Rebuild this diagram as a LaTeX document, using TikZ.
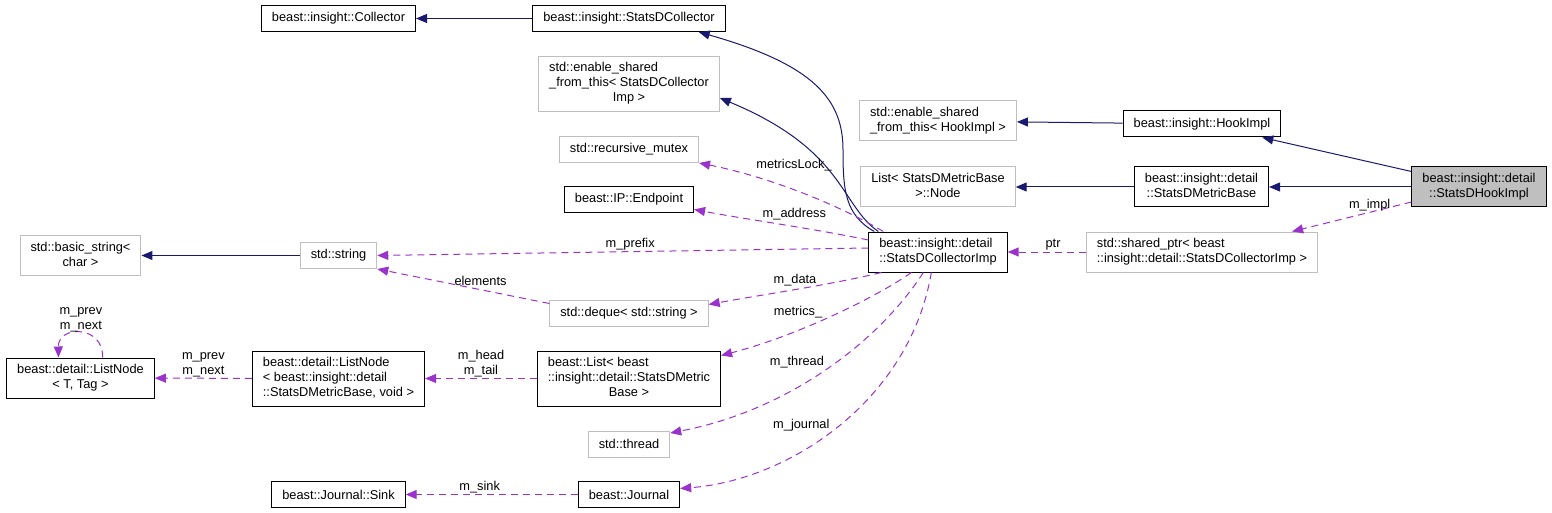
\documentclass[tikz,border=0pt]{standalone}
\usepackage{fontspec}
\setmainfont{Liberation Sans}
\usetikzlibrary{arrows.meta,calc}
\definecolor{inhC}{HTML}{191970}
\definecolor{memC}{HTML}{9A32CD}
\definecolor{extD}{HTML}{BFBFBF}
\definecolor{focusF}{HTML}{BFBFBF}
\tikzset{
  box/.style={draw, line width=1pt, inner xsep=10.5pt, inner ysep=5pt, minimum height=26pt},
  cls/.style={box, draw=black},
  ext/.style={box, draw=extD},
  focus/.style={box, draw=black, fill=focusF},
  inherit/.style={-{Triangle[length=11pt,width=9pt]}, draw=inhC, line width=1pt},
  member/.style={-{Triangle[length=11pt,width=9pt]}, draw=memC, line width=1pt, dash pattern=on 7pt off 5pt},
  lab/.style={inner sep=1pt, align=center},
}
\newcommand\twol[2]{\begin{tabular}{@{}l@{}}#1\\\multicolumn{1}{@{}c@{}}{#2}\end{tabular}}
\newcommand\threel[3]{\begin{tabular}{@{}l@{}}#1\\#2\\\multicolumn{1}{@{}c@{}}{#3}\end{tabular}}

\begin{document}
\begin{tikzpicture}[x=1pt, y=-1pt, font=\fontsize{12.8}{15}\selectfont]
\useasboundingbox (0,0) rectangle (1552,513);
\node[cls] (collector) at (338.5,18.5) {beast::insight::Collector};
\node[cls] (sdcollector) at (629,18.5) {beast::insight::StatsDCollector};
\node[ext] (esftImp) at (629,84) {\threel{std::enable\_shared}{\_from\_this< StatsDCollector}{Imp >}};
\node[ext] (rmutex) at (629,149.5) {std::recursive\_mutex};
\node[cls] (endpoint) at (629,199.5) {beast::IP::Endpoint};
\node[ext] (bstring) at (80.5,255.5) {\twol{std::basic\_string<}{char >}};
\node[ext] (sstring) at (338.5,255.5) {std::string};
\node[cls] (imp) at (938,252) {\twol{beast::insight::detail}{::StatsDCollectorImp}};
\node[ext] (esftHook) at (938,121) {\twol{std::enable\_shared}{\_from\_this< HookImpl >}};
\node[ext] (listNode) at (938,187) {\twol{List< StatsDMetricBase}{>::Node}};
\node[cls] (hookImpl) at (1202,124) {beast::insight::HookImpl};
\node[cls] (metricBase) at (1201.5,187) {\twol{beast::insight::detail}{::StatsDMetricBase}};
\node[focus] (hook) at (1479,187) {\twol{beast::insight::detail}{::StatsDHookImpl}};
\node[ext] (sptr) at (1202,252) {\twol{std::shared\_ptr< beast}{::insight::detail::StatsDCollectorImp >}};
\node[ext] (deque) at (629,313.5) {std::deque< std::string >};
\node[cls] (blist) at (629,378.5) {\threel{beast::List< beast}{::insight::detail::StatsDMetric}{Base >}};
\node[ext] (thread) at (629,444) {std::thread};
\node[cls] (journal) at (629,494.5) {beast::Journal};
\node[cls] (sink) at (338.5,494.5) {beast::Journal::Sink};
\node[cls] (lnBase) at (338.5,378.5) {\threel{beast::detail::ListNode}{< beast::insight::detail}{::StatsDMetricBase, void >}};
\node[cls] (lnT) at (80.5,378) {\twol{beast::detail::ListNode}{< T, Tag >}};
% inheritance
\draw[inherit] (sdcollector) -- (collector);
\draw[inherit] ($(imp.north west)+(6,0)$) .. controls (845,215) and (843,190) .. (843,150)
  .. controls (843,100) and (815,65) .. ($(sdcollector.south east)+(-27,0)$);
\draw[inherit] ($(imp.north west)+(10,0)$) .. controls (840,205) and (845,150) .. ($(esftImp.east)+(0,14)$);
\draw[inherit] ($(hook.north west)+(0,5)$) -- ($(hookImpl.south east)+(-19,0)$);
\draw[inherit] (hook) -- (metricBase);
\draw[inherit] (hookImpl) -- (esftHook);
\draw[inherit] (metricBase) -- (listNode);
\draw[inherit] (sstring) -- (bstring);
% members
\draw[member] ($(hook.west)+(0,15)$) -- node[lab, pos=.35, above] {m\_impl} ($(sptr.north east)+(-26,0)$);
\draw[member] (sptr) -- node[lab, pos=.42, above] {ptr} (imp);
\draw[member] ($(imp.north west)+(15,0)$) .. controls (830,200) and (760,175) .. node[lab, pos=.5, above=17pt] {metricsLock\_} (rmutex.south east);
\draw[member] ($(imp.west)+(0,-12)$) .. controls (810,228) and (750,220) .. node[lab, pos=.42, above=5pt] {m\_address} ($(endpoint.east)+(0,10)$);
\draw[member] ($(imp.west)+(0,-4)$) -- node[lab, pos=.485, above] {m\_prefix} (sstring.east);
\draw[member] ($(deque.west)+(0,-10)$) -- node[lab, pos=.4, above=3pt] {elements} (sstring.south east);
\draw[member] ($(imp.south west)+(13,0)$) .. controls (830,285) and (760,295) .. node[lab, pos=.5, above=2pt] {m\_data} ($(deque.east)+(0,-9)$);
\draw[member] ($(imp.south west)+(43,0)$) .. controls (880,295) and (800,335) .. node[lab, pos=.55, anchor=south east] {metrics\_} ($(blist.north east)+(0,5)$);
\draw[member] ($(imp.south west)+(55,0)$) .. controls (880,340) and (790,410) .. node[lab, pos=.5, anchor=south east] {m\_thread} ($(thread.east)+(0,-11)$);
\draw[member] ($(imp.south west)+(63,0)$) .. controls (910,400) and (790,480) .. node[lab, pos=.5, anchor=east, xshift=-8pt] {m\_journal} ($(journal.east)+(0,-6)$);
\draw[member] (journal) -- node[lab, pos=.57, above] {m\_sink} (sink);
\draw[member] (blist) -- node[lab, above] {m\_head\\m\_tail} (lnBase);
\draw[member] (lnBase) -- node[lab, above] {m\_prev\\m\_next} (lnT);
\draw[member] ($(lnT.north)+(22,0)$) .. controls (104,325) and (58,325) .. node[lab, pos=.5, above] {m\_prev\\m\_next} ($(lnT.north)+(-22,0)$);
\end{tikzpicture}
\end{document}
